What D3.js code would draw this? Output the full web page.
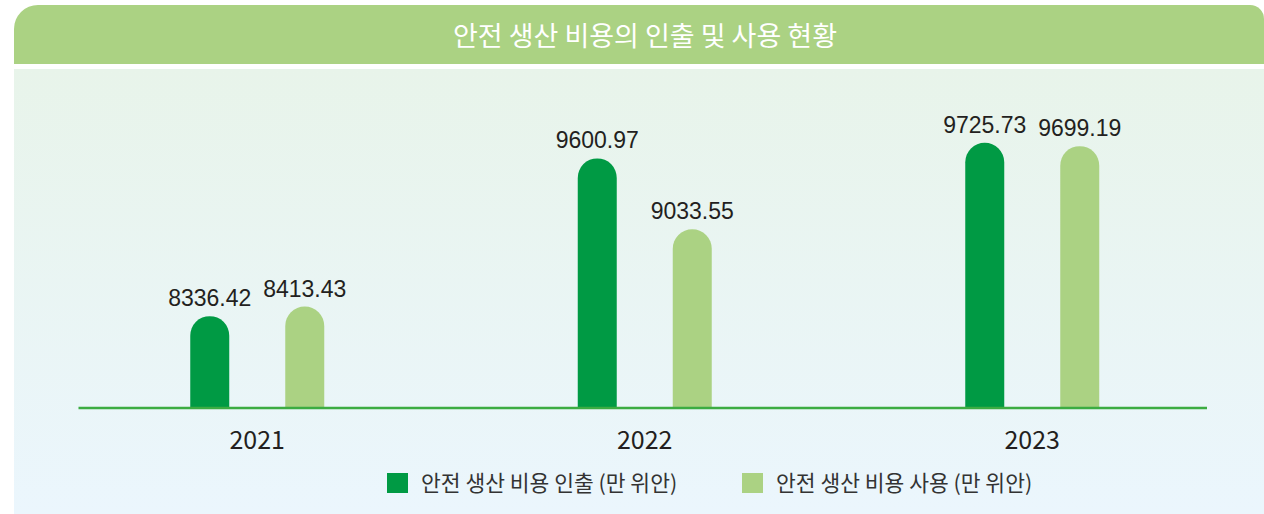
<!DOCTYPE html>
<html>
<head>
<meta charset="utf-8">
<script src="https://cdn.jsdelivr.net/npm/d3@7"></script>
<style>
  body { margin: 0; background: #fff; }
</style>
</head>
<body>
<div id="chart"></div>
<script>
// data
var years = ["2021", "2022", "2023"];
var seriesNames = ["안전 생산 비용 인출 (만 위안)", "안전 생산 비용 사용 (만 위안)"];
var withdrawn = [8336.42, 9600.97, 9725.73];
var used = [8413.43, 9033.55, 9699.19];
var colors = ["#009a44", "#abd283"];
var title = "안전 생산 비용의 인출 및 사용 현황";

var width = 1264, height = 514;
var baseY = 408;

var svg = d3.select("#chart")
  .append("svg")
  .attr("width", width)
  .attr("height", height);

var defs = svg.append("defs");
var grad = defs.append("linearGradient")
  .attr("id", "bg")
  .attr("x1", 0).attr("y1", 0).attr("x2", 0).attr("y2", 1);
grad.append("stop").attr("offset", "0%").attr("stop-color", "#e8f4ea");
grad.append("stop").attr("offset", "100%").attr("stop-color", "#ebf6fd");

// panel background
svg.append("rect")
  .attr("x", 14).attr("y", 69)
  .attr("width", width - 14).attr("height", height - 69)
  .attr("fill", "url(#bg)");

// header bar, rounded top corners
var hx0 = 14, hx1 = width, hy0 = 5, hy1 = 64, rl = 24, rr = 14;
svg.append("path")
  .attr("d", "M" + hx0 + "," + hy1 +
    " L" + hx0 + "," + (hy0 + rl) +
    " A" + rl + "," + rl + " 0 0 1 " + (hx0 + rl) + "," + hy0 +
    " L" + (hx1 - rr) + "," + hy0 +
    " A" + rr + "," + rr + " 0 0 1 " + hx1 + "," + (hy0 + rr) +
    " L" + hx1 + "," + hy1 + " Z")
  .attr("fill", "#abd283");

svg.append("text")
  .attr("x", 645).attr("y", 46)
  .attr("text-anchor", "middle")
  .style("font-family", "'Noto Sans CJK KR', 'Noto Sans', sans-serif")
  .style("font-size", "27px")
  .attr("fill", "#ffffff")
  .text(title);

// scales
var x0 = d3.scaleBand()
  .domain(years)
  .range([63.5, 1226]);

var x1 = d3.scalePoint()
  .domain([0, 1])
  .range([-47.5, 47.5]);

var y = d3.scaleLinear()
  .domain([7600, 10000])
  .range([baseY, 108.6]);

var barW = 39;

var rows = years.map(function (yr, i) {
  return { year: yr, values: [withdrawn[i], used[i]] };
});

function barPath(cx, top) {
  var r = barW / 2;
  var l = cx - r, rt = cx + r;
  var t = Math.min(top + r, baseY);
  return "M" + l + "," + baseY + " L" + l + "," + t +
    " A" + r + "," + r + " 0 0 1 " + rt + "," + t +
    " L" + rt + "," + baseY + " Z";
}

var groups = svg.append("g")
  .selectAll("g")
  .data(rows)
  .enter()
  .append("g")
  .attr("transform", function (d) { return "translate(" + (x0(d.year) + x0.bandwidth() / 2) + ",0)"; });

groups.selectAll("path")
  .data(function (d) { return d.values.map(function (v, k) { return { k: k, v: v }; }); })
  .enter()
  .append("path")
  .attr("d", function (d) { return barPath(x1(d.k), y(d.v)); })
  .attr("fill", function (d) { return colors[d.k]; });

groups.selectAll("text.val")
  .data(function (d) { return d.values.map(function (v, k) { return { k: k, v: v }; }); })
  .enter()
  .append("text")
  .attr("class", "val")
  .attr("x", function (d) { return x1(d.k); })
  .attr("y", function (d) { return y(d.v) - 10; })
  .attr("text-anchor", "middle")
  .style("font-family", "'Liberation Sans', Arial, sans-serif")
  .style("font-size", "23px")
  .attr("fill", "#231f20")
  .text(function (d) { return d3.format(".2f")(d.v); });

// baseline
svg.append("line")
  .attr("x1", 78.5).attr("x2", 1207)
  .attr("y1", baseY).attr("y2", baseY)
  .attr("stroke", "#3cac42")
  .attr("stroke-width", 2.5);

// year labels
svg.append("g")
  .selectAll("text")
  .data(years)
  .enter()
  .append("text")
  .attr("x", function (d) { return x0(d) + x0.bandwidth() / 2; })
  .attr("y", 449)
  .attr("text-anchor", "middle")
  .style("font-family", "'Noto Sans CJK KR', 'Noto Sans', sans-serif")
  .style("font-size", "25px")
  .attr("fill", "#231f20")
  .text(function (d) { return d; });

// legend
var legendX = [387, 742];
var legend = svg.append("g")
  .selectAll("g")
  .data(seriesNames)
  .enter()
  .append("g")
  .attr("transform", function (d, i) { return "translate(" + legendX[i] + ",473)"; });

legend.append("rect")
  .attr("width", 21).attr("height", 20)
  .attr("fill", function (d, i) { return colors[i]; });

legend.append("text")
  .attr("x", 34).attr("y", 18)
  .style("font-family", "'Noto Sans CJK KR', 'Noto Sans', sans-serif")
  .style("font-size", "21.5px")
  .attr("fill", "#333333")
  .text(function (d) { return d; });
</script>
</body>
</html>
